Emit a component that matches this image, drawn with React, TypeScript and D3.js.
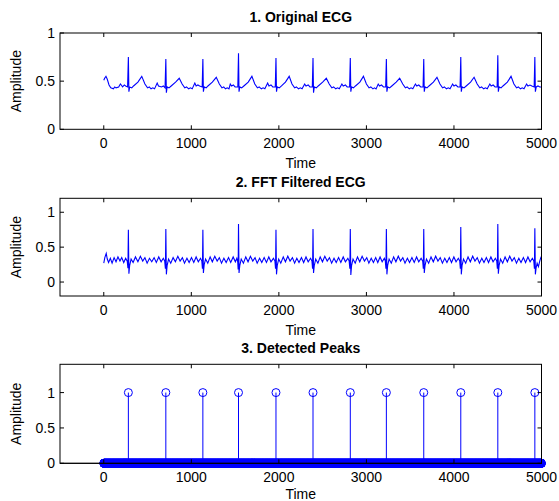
import React from "react";
import * as d3 from "d3";

// panel titles and axis labels
const titles = ["1. Original ECG", "2. FFT Filtered ECG", "3. Detected Peaks"];
const xTicks = [0, 1000, 2000, 3000, 4000, 5000];
const yTicks = [0, 0.5, 1];
const sampleCount = 5000;

// R-peak sample indices found by the detector
const peakIdx = [281, 709, 1132, 1539, 1967, 2390, 2816, 3228, 3655, 4078, 4501, 4924];

// original ECG, [sample, amplitude] vertices
const originalEcg: [number, number][] = [
  [0, 0.51], [10, 0.53], [25, 0.55], [40, 0.52], [60, 0.46], [80, 0.43], [110, 0.42], [125, 0.44], [140, 0.43], [170, 0.44], [190, 0.47], [200, 0.46], [215, 0.44], [235, 0.46], [250, 0.45], [272, 0.44],
  [281, 0.75], [287, 0.39], [296, 0.44], [320, 0.43], [340, 0.45], [390, 0.49], [434, 0.55], [470, 0.47], [500, 0.43], [520, 0.44], [540, 0.42], [560, 0.43], [580, 0.42], [610, 0.48], [625, 0.45], [660, 0.44], [680, 0.45], [700, 0.43],
  [709, 0.73], [715, 0.38], [724, 0.44], [745, 0.43], [770, 0.45], [820, 0.49], [862, 0.53], [895, 0.47], [925, 0.43], [945, 0.44], [970, 0.42], [990, 0.43], [1010, 0.42], [1040, 0.48], [1055, 0.45], [1075, 0.46], [1095, 0.45], [1124, 0.44],
  [1132, 0.73], [1138, 0.39], [1147, 0.44], [1170, 0.43], [1190, 0.45], [1240, 0.49], [1285, 0.54], [1320, 0.47], [1350, 0.43], [1370, 0.44], [1390, 0.42], [1410, 0.43], [1430, 0.42], [1445, 0.47], [1460, 0.45], [1480, 0.46], [1500, 0.44], [1531, 0.44],
  [1539, 0.79], [1545, 0.39], [1554, 0.44], [1575, 0.43], [1600, 0.45], [1650, 0.49], [1692, 0.55], [1725, 0.47], [1755, 0.43], [1775, 0.44], [1800, 0.42], [1820, 0.43], [1840, 0.42], [1872, 0.48], [1887, 0.45], [1910, 0.46], [1930, 0.44], [1959, 0.44],
  [1967, 0.74], [1973, 0.39], [1982, 0.44], [2005, 0.43], [2030, 0.45], [2075, 0.49], [2118, 0.55], [2150, 0.47], [2180, 0.43], [2200, 0.44], [2225, 0.42], [2245, 0.43], [2265, 0.42], [2295, 0.47], [2310, 0.45], [2335, 0.46], [2355, 0.44], [2382, 0.44],
  [2390, 0.74], [2396, 0.38], [2405, 0.44], [2428, 0.43], [2450, 0.45], [2500, 0.49], [2542, 0.53], [2575, 0.47], [2605, 0.43], [2625, 0.44], [2650, 0.42], [2670, 0.43], [2690, 0.42], [2720, 0.47], [2735, 0.45], [2760, 0.46], [2780, 0.44], [2808, 0.44],
  [2816, 0.74], [2822, 0.39], [2831, 0.44], [2852, 0.43], [2875, 0.45], [2925, 0.49], [2966, 0.55], [3000, 0.47], [3030, 0.43], [3050, 0.44], [3075, 0.42], [3092, 0.43], [3110, 0.42], [3135, 0.47], [3150, 0.45], [3172, 0.46], [3195, 0.44], [3220, 0.44],
  [3228, 0.73], [3234, 0.39], [3243, 0.44], [3265, 0.43], [3290, 0.45], [3340, 0.49], [3380, 0.53], [3415, 0.47], [3445, 0.43], [3465, 0.44], [3490, 0.42], [3510, 0.43], [3530, 0.42], [3560, 0.47], [3575, 0.45], [3598, 0.46], [3620, 0.44], [3647, 0.44],
  [3655, 0.73], [3661, 0.39], [3670, 0.44], [3692, 0.43], [3715, 0.45], [3765, 0.49], [3806, 0.54], [3840, 0.47], [3870, 0.43], [3890, 0.44], [3915, 0.42], [3935, 0.43], [3955, 0.42], [3985, 0.47], [4000, 0.45], [4022, 0.46], [4045, 0.44], [4070, 0.44],
  [4078, 0.75], [4084, 0.39], [4093, 0.44], [4115, 0.43], [4140, 0.45], [4190, 0.49], [4230, 0.54], [4265, 0.47], [4295, 0.43], [4315, 0.44], [4340, 0.42], [4360, 0.43], [4380, 0.42], [4410, 0.47], [4425, 0.45], [4448, 0.46], [4470, 0.44], [4493, 0.44],
  [4501, 0.77], [4507, 0.39], [4516, 0.44], [4538, 0.43], [4560, 0.45], [4610, 0.49], [4652, 0.55], [4685, 0.47], [4715, 0.43], [4735, 0.44], [4760, 0.42], [4780, 0.43], [4800, 0.42], [4830, 0.47], [4845, 0.45], [4868, 0.46], [4890, 0.45], [4916, 0.44],
  [4924, 0.75], [4930, 0.39], [4940, 0.44], [4960, 0.45], [4980, 0.44], [5000, 0.44],
];

// FFT filtered ECG
const filteredEcg: [number, number][] = [
  [0, 0.27], [12, 0.35], [28, 0.41], [40, 0.33], [55, 0.28], [75, 0.34], [95, 0.27], [118, 0.35], [140, 0.29], [162, 0.36], [185, 0.30], [205, 0.35], [228, 0.28], [250, 0.34], [268, 0.30], [276, 0.20],
  [281, 0.75], [287, 0.12], [296, 0.24], [312, 0.33], [335, 0.28], [362, 0.36], [390, 0.29], [418, 0.37], [445, 0.30], [470, 0.35], [495, 0.27], [522, 0.34], [548, 0.29], [575, 0.35], [600, 0.28], [628, 0.36], [655, 0.29], [680, 0.34], [696, 0.30], [704, 0.19],
  [709, 0.76], [715, 0.11], [724, 0.24], [740, 0.33], [765, 0.27], [792, 0.35], [818, 0.29], [846, 0.37], [872, 0.30], [898, 0.35], [922, 0.27], [950, 0.34], [975, 0.28], [1002, 0.35], [1028, 0.28], [1055, 0.36], [1080, 0.29], [1105, 0.34], [1120, 0.30], [1127, 0.19],
  [1132, 0.75], [1138, 0.13], [1147, 0.25], [1163, 0.33], [1188, 0.27], [1215, 0.36], [1240, 0.29], [1268, 0.37], [1295, 0.30], [1320, 0.35], [1345, 0.27], [1372, 0.34], [1398, 0.28], [1425, 0.35], [1450, 0.28], [1478, 0.36], [1503, 0.29], [1520, 0.34], [1530, 0.29], [1535, 0.18],
  [1539, 0.83], [1545, 0.13], [1554, 0.24], [1570, 0.33], [1595, 0.27], [1622, 0.36], [1648, 0.29], [1675, 0.37], [1702, 0.30], [1728, 0.35], [1752, 0.27], [1780, 0.34], [1805, 0.28], [1832, 0.35], [1858, 0.28], [1885, 0.36], [1910, 0.29], [1938, 0.34], [1955, 0.30], [1962, 0.19],
  [1967, 0.75], [1973, 0.11], [1982, 0.24], [1998, 0.33], [2022, 0.27], [2050, 0.36], [2075, 0.29], [2102, 0.37], [2128, 0.30], [2155, 0.35], [2180, 0.27], [2205, 0.34], [2230, 0.28], [2258, 0.35], [2283, 0.28], [2310, 0.36], [2335, 0.29], [2362, 0.34], [2378, 0.30], [2385, 0.19],
  [2390, 0.76], [2396, 0.13], [2405, 0.24], [2421, 0.33], [2446, 0.27], [2472, 0.36], [2498, 0.29], [2525, 0.37], [2552, 0.30], [2578, 0.35], [2603, 0.27], [2630, 0.34], [2655, 0.28], [2682, 0.35], [2708, 0.28], [2735, 0.36], [2760, 0.29], [2788, 0.34], [2803, 0.30], [2811, 0.19],
  [2816, 0.76], [2822, 0.10], [2831, 0.24], [2847, 0.33], [2872, 0.27], [2898, 0.36], [2924, 0.29], [2951, 0.37], [2978, 0.30], [3004, 0.35], [3028, 0.27], [3055, 0.34], [3080, 0.28], [3106, 0.35], [3130, 0.28], [3156, 0.36], [3180, 0.29], [3205, 0.34], [3216, 0.30], [3223, 0.19],
  [3228, 0.76], [3234, 0.11], [3243, 0.24], [3259, 0.33], [3284, 0.27], [3311, 0.36], [3337, 0.29], [3364, 0.37], [3390, 0.30], [3416, 0.35], [3441, 0.27], [3468, 0.34], [3493, 0.28], [3520, 0.35], [3546, 0.28], [3573, 0.36], [3598, 0.29], [3625, 0.34], [3643, 0.30], [3650, 0.19],
  [3655, 0.76], [3661, 0.13], [3670, 0.24], [3686, 0.33], [3711, 0.27], [3738, 0.36], [3764, 0.29], [3791, 0.37], [3817, 0.30], [3843, 0.35], [3868, 0.27], [3895, 0.34], [3920, 0.28], [3947, 0.35], [3972, 0.28], [3999, 0.36], [4024, 0.29], [4050, 0.34], [4066, 0.30], [4073, 0.19],
  [4078, 0.79], [4084, 0.11], [4093, 0.24], [4109, 0.33], [4134, 0.27], [4161, 0.36], [4187, 0.29], [4214, 0.37], [4240, 0.30], [4266, 0.35], [4291, 0.27], [4318, 0.34], [4343, 0.28], [4370, 0.35], [4395, 0.28], [4422, 0.36], [4447, 0.29], [4473, 0.34], [4489, 0.30], [4496, 0.19],
  [4501, 0.83], [4507, 0.12], [4516, 0.24], [4532, 0.33], [4557, 0.27], [4584, 0.36], [4610, 0.29], [4637, 0.37], [4663, 0.30], [4689, 0.35], [4714, 0.27], [4741, 0.34], [4766, 0.28], [4793, 0.35], [4818, 0.28], [4845, 0.36], [4870, 0.29], [4896, 0.34], [4912, 0.30], [4919, 0.19],
  [4924, 0.77], [4930, 0.11], [4938, 0.20], [4950, 0.27], [4965, 0.22], [4980, 0.30], [4992, 0.35], [5000, 0.37],
];

const font = "'Liberation Sans', Arial, sans-serif";
const blue = "#0000ff";
const left = 60;
const right = 541.5;
const tickLen = 4;

const x = d3.scaleLinear().domain([-500, 5000]).range([left, right]);

type PanelProps = {
  title: string;
  top: number;
  bottom: number;
  yDomain: [number, number];
  labelGap?: number;
  children: (y: d3.ScaleLinear<number, number>) => React.ReactNode;
};

function Panel({ title, top, bottom, yDomain, labelGap = 38.5, children }: PanelProps) {
  const y = d3.scaleLinear().domain(yDomain).range([bottom, top]);
  const mid = (top + bottom) / 2;
  return (
    <g>
      {children(y)}
      <rect x={left} y={top} width={right - left} height={bottom - top} fill="none" stroke="#000" strokeWidth={1} />
      {xTicks.map(t => (
        <g key={"x" + t}>
          <line x1={x(t)} x2={x(t)} y1={bottom} y2={bottom - tickLen} stroke="#000" />
          <line x1={x(t)} x2={x(t)} y1={top} y2={top + tickLen} stroke="#000" />
          <text x={x(t)} y={bottom + 19} textAnchor="middle" fontSize={14} fontFamily={font}>{t}</text>
        </g>
      ))}
      {yTicks.map(t => (
        <g key={"y" + t}>
          <line x1={left} x2={left + tickLen} y1={y(t)} y2={y(t)} stroke="#000" />
          <line x1={right} x2={right - tickLen} y1={y(t)} y2={y(t)} stroke="#000" />
          <text x={left - 5} y={y(t)} dy="0.36em" textAnchor="end" fontSize={14} fontFamily={font}>{t}</text>
        </g>
      ))}
      <text x={(left + right) / 2} y={top - 11} textAnchor="middle" fontSize={14} fontWeight="bold" fontFamily={font}>{title}</text>
      <text x={(left + right) / 2} y={bottom + labelGap} textAnchor="middle" fontSize={14} fontFamily={font}>Time</text>
      <text transform={`translate(21,${mid}) rotate(-90)`} textAnchor="middle" fontSize={14} fontFamily={font}>Amplitude</text>
    </g>
  );
}

export default function App() {
  const peakSet = new Set(peakIdx);
  const stems = d3.range(sampleCount).map(i => ({ t: i, v: peakSet.has(i) ? 1 : 0 }));

  const trace = (data: [number, number][]) => (y: d3.ScaleLinear<number, number>) => {
    const line = d3.line<[number, number]>().x(d => x(d[0])).y(d => y(d[1]));
    return <path d={line(data) || ""} fill="none" stroke={blue} strokeWidth={1.1} />;
  };

  return (
    <svg width={559} height={501} style={{ position: "absolute", left: 0, top: 0, background: "#fff" }}>
      <rect width={559} height={501} fill="#fff" />
      <Panel title={titles[0]} top={33} bottom={129.3} yDomain={[0, 1]}>
        {trace(originalEcg)}
      </Panel>
      <Panel title={titles[1]} top={198.3} bottom={296} yDomain={[-0.2, 1.2]}>
        {trace(filteredEcg)}
      </Panel>
      <Panel title={titles[2]} top={364.3} bottom={463.3} yDomain={[0, 1.4]} labelGap={35.5}>
        {y => (
          <g>
            {stems.filter(d => d.v > 0).map(d => (
              <line key={"s" + d.t} x1={x(d.t)} x2={x(d.t)} y1={y(0)} y2={y(d.v)} stroke={blue} strokeWidth={1} />
            ))}
            {stems.map(d => (
              <circle key={"c" + d.t} cx={x(d.t)} cy={y(d.v)} r={4} fill="none" stroke={blue} strokeWidth={1} />
            ))}
            <line x1={left} x2={right} y1={y(0)} y2={y(0)} stroke="#000" />
          </g>
        )}
      </Panel>
    </svg>
  );
}
